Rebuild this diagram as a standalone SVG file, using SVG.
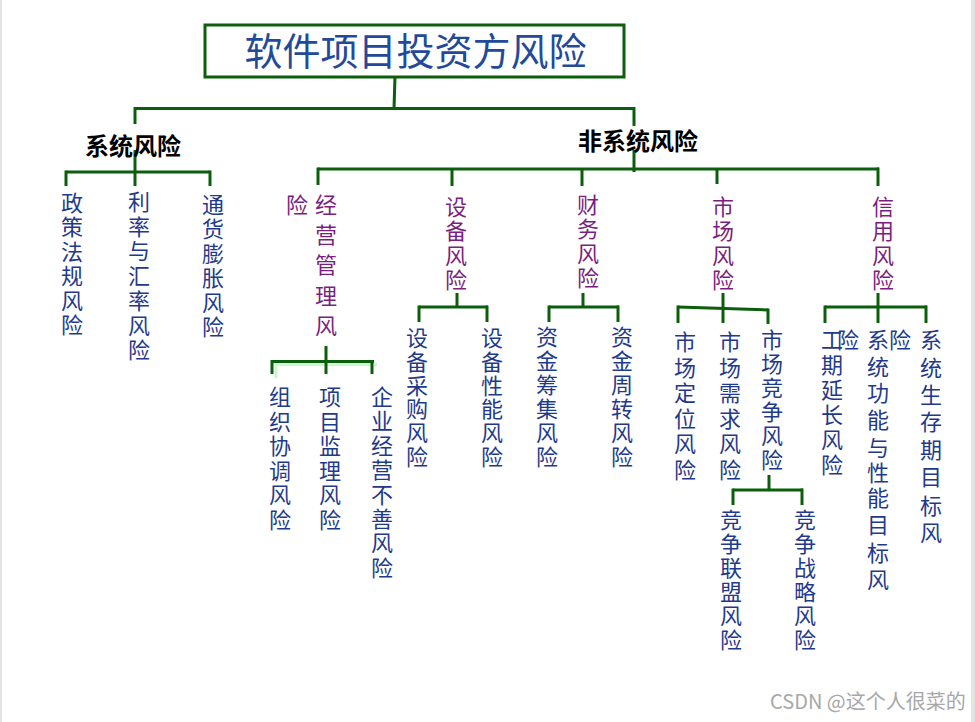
<svg xmlns="http://www.w3.org/2000/svg" width="975" height="722" viewBox="0 0 975 722">
<style>
.ln{stroke:#0b5e0b;stroke-width:3;fill:none;stroke-linecap:butt}
.sh{stroke:#ccf7cc;stroke-width:3;fill:none}
.lf{font-family:"Noto Sans CJK SC","Noto Sans",sans-serif;font-size:22px;fill:#1f3a8c;text-anchor:middle}
.l2{font-family:"Noto Sans CJK SC","Noto Sans",sans-serif;font-size:22px;fill:#7a1f80;text-anchor:middle}
.hd{font-family:"Noto Sans CJK SC","Noto Sans",sans-serif;font-size:24px;font-weight:bold;fill:#000;text-anchor:middle}
.tt{font-family:"Noto Sans CJK SC","Noto Sans",sans-serif;font-size:38px;fill:#234a9a;text-anchor:middle}
.wm{font-family:"Noto Sans CJK SC","Noto Sans",sans-serif;font-size:20px;fill:#a8a8a8}
</style>
<rect x="0" y="0" width="975" height="722" fill="#fff"/>
<rect x="0" y="0" width="2" height="722" fill="#e4e4e4"/>
<rect x="971" y="0" width="4" height="722" fill="#e4e4e4"/>

<g id="connectors">
<line class="ln" x1="395" y1="77" x2="394" y2="108.5"/>
<line class="ln" x1="135" y1="108.5" x2="634" y2="108.5"/>
<line class="ln" x1="135" y1="107" x2="135" y2="124"/>
<line class="ln" x1="634" y1="107" x2="634" y2="126"/>
<line class="ln" x1="135" y1="150" x2="135" y2="172"/>
<line class="ln" x1="66" y1="172" x2="210" y2="172"/>
<line class="ln" x1="66" y1="170.5" x2="66" y2="186"/>
<line class="ln" x1="135" y1="172" x2="135" y2="186"/>
<line class="ln" x1="210" y1="170.5" x2="210" y2="186"/>
<line class="ln" x1="634" y1="150" x2="634" y2="172"/>
<line class="ln" x1="318" y1="169" x2="879" y2="169"/>
<line class="ln" x1="318" y1="167.5" x2="318" y2="185"/>
<line class="ln" x1="452" y1="169" x2="452" y2="186"/>
<line class="ln" x1="582" y1="169" x2="582" y2="186"/>
<line class="ln" x1="717" y1="169" x2="717" y2="184"/>
<line class="ln" x1="878" y1="167.5" x2="878" y2="186"/>

<polyline class="sh" points="276,378 276,364.5 377,364.5"/>
<line class="ln" x1="326" y1="346" x2="326" y2="374"/>
<line class="ln" x1="272" y1="361.5" x2="374" y2="361.5"/>
<line class="ln" x1="272" y1="360" x2="272" y2="374"/>
<line class="ln" x1="372" y1="360" x2="372" y2="374"/>

<line class="ln" x1="457" y1="293" x2="457" y2="307"/>
<line class="ln" x1="419" y1="307" x2="488" y2="307"/>
<line class="ln" x1="419" y1="305.5" x2="419" y2="322"/>
<line class="ln" x1="487" y1="305.5" x2="487" y2="322"/>

<line class="ln" x1="583" y1="293" x2="583" y2="307"/>
<line class="ln" x1="549" y1="307" x2="619" y2="307"/>
<line class="ln" x1="549" y1="305.5" x2="549" y2="322"/>
<line class="ln" x1="618" y1="305.5" x2="618" y2="322"/>

<line class="ln" x1="723" y1="293" x2="723" y2="323"/>
<line class="ln" x1="678" y1="307" x2="768" y2="310"/>
<line class="ln" x1="678" y1="305.5" x2="678" y2="323"/>
<line class="ln" x1="768" y1="308.5" x2="768" y2="324"/>

<line class="ln" x1="878" y1="293" x2="878" y2="323"/>
<line class="ln" x1="825" y1="307" x2="927" y2="307"/>
<line class="ln" x1="825" y1="305.5" x2="825" y2="323"/>
<line class="ln" x1="926" y1="305.5" x2="926" y2="323"/>

<line class="ln" x1="769" y1="475" x2="769" y2="490"/>
<line class="ln" x1="733" y1="490" x2="803" y2="490"/>
<line class="ln" x1="733" y1="488.5" x2="733" y2="505"/>
<line class="ln" x1="802" y1="488.5" x2="802" y2="505"/>
</g>

<g id="root">
<rect x="205" y="25" width="419" height="52" fill="#fff" stroke="#0b5e0b" stroke-width="3"/>
<text class="tt" x="415.5" y="65">软件项目投资方风险</text>
</g>

<g id="sys"><text class="hd" x="133" y="155">系统风险</text></g>
<g id="nonsys"><text class="hd" x="638" y="150">非系统风险</text></g>

<g id="n-zcfg"><text class="lf"><tspan x="72" y="211">政</tspan><tspan x="72" y="235.4">策</tspan><tspan x="72" y="259.8">法</tspan><tspan x="72" y="284.2">规</tspan><tspan x="72" y="308.6">风</tspan><tspan x="72" y="333">险</tspan></text></g>
<g id="n-llhl"><text class="lf"><tspan x="139" y="210">利</tspan><tspan x="139" y="234.7">率</tspan><tspan x="139" y="259.4">与</tspan><tspan x="139" y="284.1">汇</tspan><tspan x="139" y="308.8">率</tspan><tspan x="139" y="333.5">风</tspan><tspan x="139" y="358.2">险</tspan></text></g>
<g id="n-thpz"><text class="lf"><tspan x="213" y="213">通</tspan><tspan x="213" y="237.4">货</tspan><tspan x="213" y="261.8">膨</tspan><tspan x="213" y="286.2">胀</tspan><tspan x="213" y="310.6">风</tspan><tspan x="213" y="335">险</tspan></text></g>

<g id="n-jygl"><text class="l2"><tspan x="297" y="213">险</tspan><tspan x="326" y="213">经</tspan><tspan x="326" y="243">营</tspan><tspan x="326" y="273">管</tspan><tspan x="326" y="304">理</tspan><tspan x="326" y="334">风</tspan></text></g>
<g id="n-sb"><text class="l2"><tspan x="456" y="215">设</tspan><tspan x="456" y="239.3">备</tspan><tspan x="456" y="263.6">风</tspan><tspan x="456" y="288">险</tspan></text></g>
<g id="n-cw"><text class="l2"><tspan x="588" y="213">财</tspan><tspan x="588" y="237.3">务</tspan><tspan x="588" y="261.6">风</tspan><tspan x="588" y="286">险</tspan></text></g>
<g id="n-sc"><text class="l2"><tspan x="723" y="215">市</tspan><tspan x="723" y="239.3">场</tspan><tspan x="723" y="263.6">风</tspan><tspan x="723" y="288">险</tspan></text></g>
<g id="n-xy"><text class="l2"><tspan x="883" y="215">信</tspan><tspan x="883" y="239.3">用</tspan><tspan x="883" y="263.6">风</tspan><tspan x="883" y="288">险</tspan></text></g>

<g id="n-zzxt"><text class="lf"><tspan x="280" y="405">组</tspan><tspan x="280" y="429.6">织</tspan><tspan x="280" y="454.2">协</tspan><tspan x="280" y="478.8">调</tspan><tspan x="280" y="503.4">风</tspan><tspan x="280" y="528">险</tspan></text></g>
<g id="n-xmjl"><text class="lf"><tspan x="330" y="405">项</tspan><tspan x="330" y="429.6">目</tspan><tspan x="330" y="454.2">监</tspan><tspan x="330" y="478.8">理</tspan><tspan x="330" y="503.4">风</tspan><tspan x="330" y="528">险</tspan></text></g>
<g id="n-qyjy"><text class="lf"><tspan x="382" y="405">企</tspan><tspan x="382" y="429.4">业</tspan><tspan x="382" y="453.8">经</tspan><tspan x="382" y="478.2">营</tspan><tspan x="382" y="502.6">不</tspan><tspan x="382" y="527">善</tspan><tspan x="382" y="551.4">风</tspan><tspan x="382" y="575.8">险</tspan></text></g>

<g id="n-sbcg"><text class="lf"><tspan x="417" y="346">设</tspan><tspan x="417" y="369.8">备</tspan><tspan x="417" y="393.6">采</tspan><tspan x="417" y="417.4">购</tspan><tspan x="417" y="441.2">风</tspan><tspan x="417" y="465">险</tspan></text></g>
<g id="n-sbxn"><text class="lf"><tspan x="492" y="346">设</tspan><tspan x="492" y="369.8">备</tspan><tspan x="492" y="393.6">性</tspan><tspan x="492" y="417.4">能</tspan><tspan x="492" y="441.2">风</tspan><tspan x="492" y="465">险</tspan></text></g>
<g id="n-zjcj"><text class="lf"><tspan x="547" y="345">资</tspan><tspan x="547" y="369">金</tspan><tspan x="547" y="393">筹</tspan><tspan x="547" y="417">集</tspan><tspan x="547" y="441">风</tspan><tspan x="547" y="465">险</tspan></text></g>
<g id="n-zjzz"><text class="lf"><tspan x="622" y="345">资</tspan><tspan x="622" y="369">金</tspan><tspan x="622" y="393">周</tspan><tspan x="622" y="417">转</tspan><tspan x="622" y="441">风</tspan><tspan x="622" y="465">险</tspan></text></g>

<g id="n-scdw"><text class="lf"><tspan x="685" y="350">市</tspan><tspan x="685" y="375.5">场</tspan><tspan x="685" y="401">定</tspan><tspan x="685" y="426.5">位</tspan><tspan x="685" y="452">风</tspan><tspan x="685" y="477.5">险</tspan></text></g>
<g id="n-scxq"><text class="lf"><tspan x="730" y="350">市</tspan><tspan x="730" y="375.5">场</tspan><tspan x="730" y="401">需</tspan><tspan x="730" y="426.5">求</tspan><tspan x="730" y="452">风</tspan><tspan x="730" y="477.5">险</tspan></text></g>
<g id="n-scjz"><text class="lf"><tspan x="772" y="348">市</tspan><tspan x="772" y="372">场</tspan><tspan x="772" y="396">竞</tspan><tspan x="772" y="420">争</tspan><tspan x="772" y="444">风</tspan><tspan x="772" y="468">险</tspan></text></g>
<g id="n-jzlm"><text class="lf"><tspan x="731" y="528">竞</tspan><tspan x="731" y="552">争</tspan><tspan x="731" y="576">联</tspan><tspan x="731" y="600">盟</tspan><tspan x="731" y="624">风</tspan><tspan x="731" y="648">险</tspan></text></g>
<g id="n-jzzl"><text class="lf"><tspan x="805" y="528">竞</tspan><tspan x="805" y="552">争</tspan><tspan x="805" y="576">战</tspan><tspan x="805" y="600">略</tspan><tspan x="805" y="624">风</tspan><tspan x="805" y="648">险</tspan></text></g>

<g id="n-gqyc"><text class="lf"><tspan x="832" y="348">工</tspan><tspan x="848" y="348">险</tspan><tspan x="832" y="373">期</tspan><tspan x="832" y="398">延</tspan><tspan x="832" y="423">长</tspan><tspan x="832" y="448">风</tspan><tspan x="832" y="473">险</tspan></text></g>
<g id="n-xtgn"><text class="lf"><tspan x="878" y="348">系</tspan><tspan x="900" y="348">险</tspan><tspan x="878" y="375">统</tspan><tspan x="878" y="401">功</tspan><tspan x="878" y="428">能</tspan><tspan x="878" y="456">与</tspan><tspan x="878" y="481">性</tspan><tspan x="878" y="506">能</tspan><tspan x="878" y="533">目</tspan><tspan x="878" y="561">标</tspan><tspan x="878" y="588">风</tspan></text></g>
<g id="n-xtsc"><text class="lf"><tspan x="931" y="348">系</tspan><tspan x="931" y="376">统</tspan><tspan x="931" y="403">生</tspan><tspan x="931" y="430">存</tspan><tspan x="931" y="458">期</tspan><tspan x="931" y="485">目</tspan><tspan x="931" y="514">标</tspan><tspan x="931" y="541">风</tspan></text></g>

<text class="wm" x="770" y="709">CSDN @这个人很菜的</text>
</svg>
